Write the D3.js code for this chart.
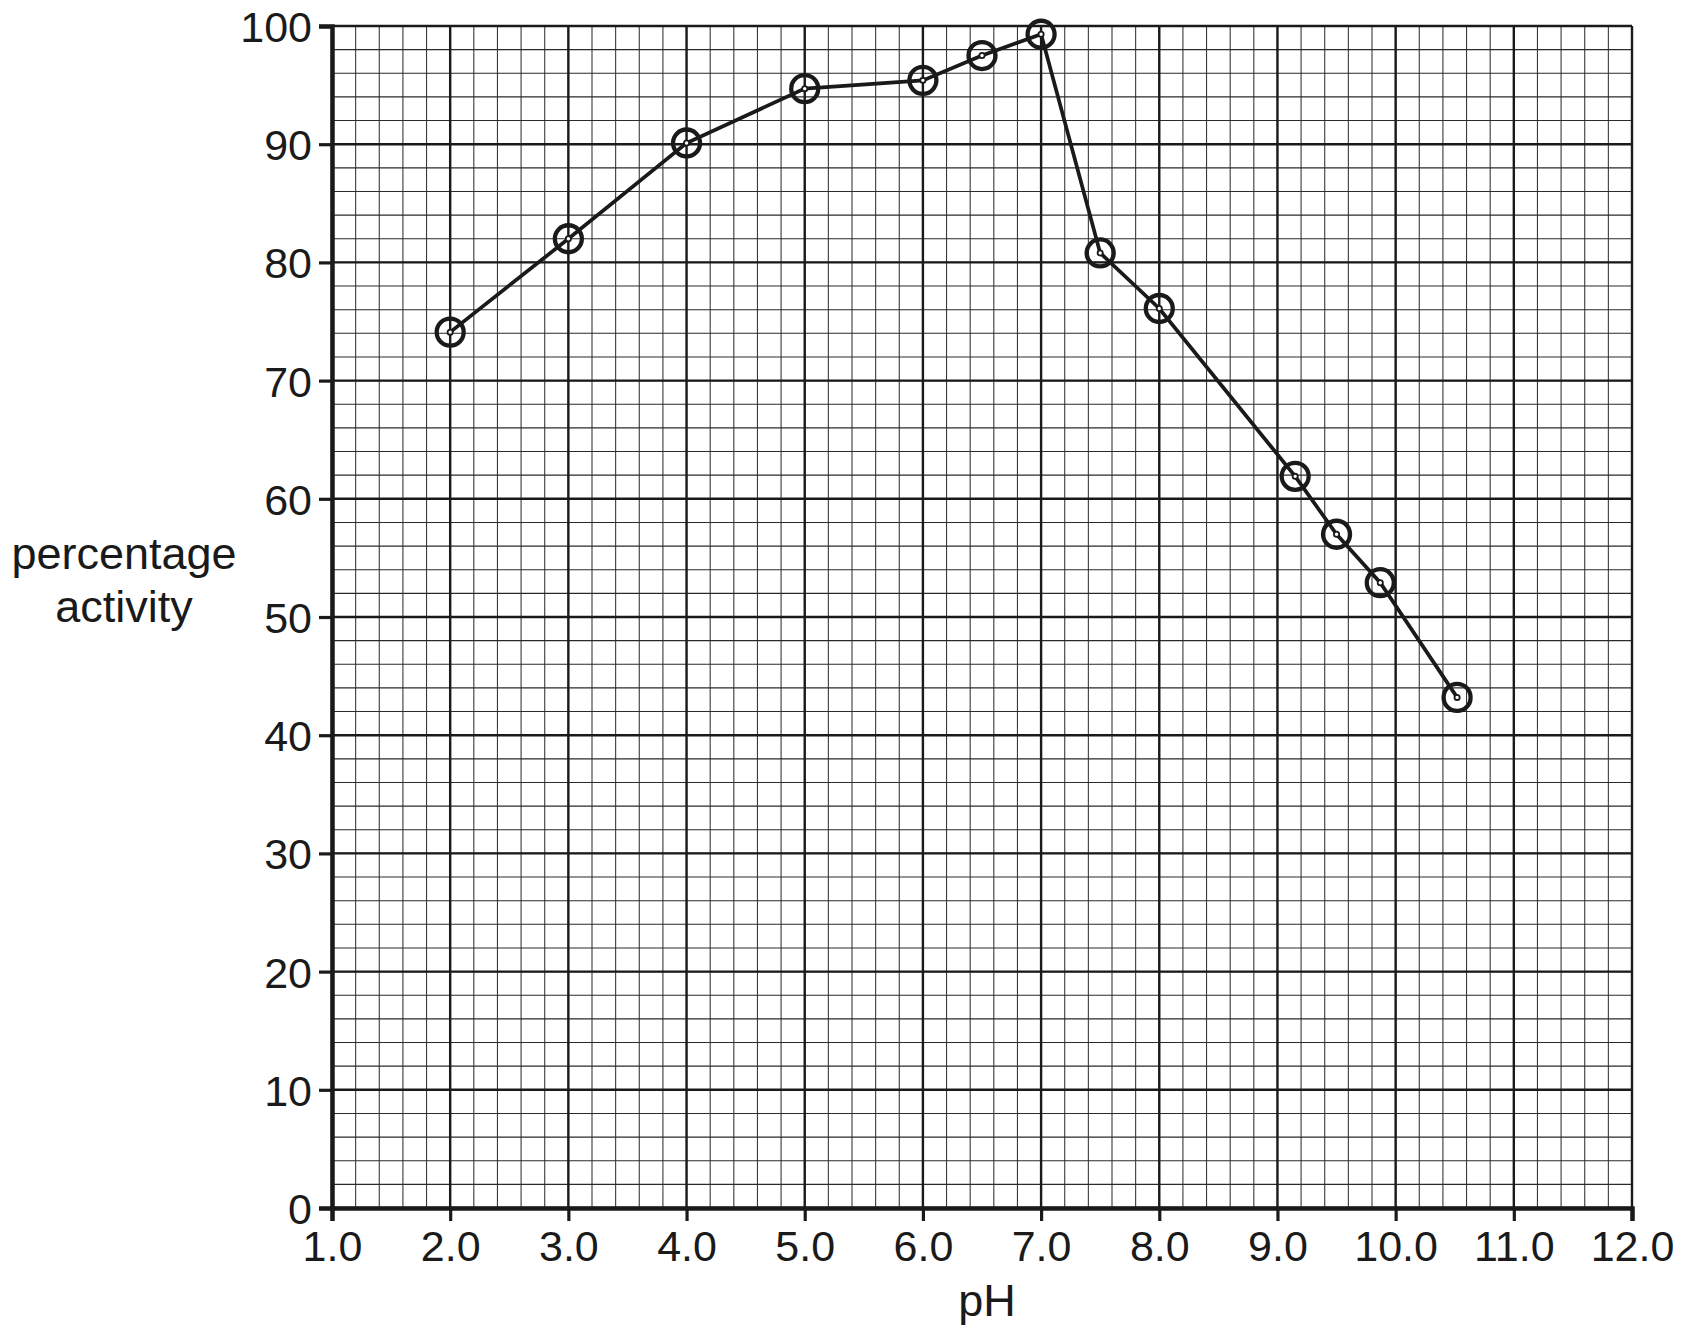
<!DOCTYPE html>
<html>
<head>
<meta charset="utf-8">
<script src="https://cdn.jsdelivr.net/npm/d3@7"></script>
<style>
  body { margin: 0; background: #fff; }
  text { font-family: "Liberation Sans", Arial, Helvetica, sans-serif; fill: #1a1a1a; }
</style>
</head>
<body>
<div id="chart"></div>
<script>
// data
var phValues = [2.0, 3.0, 4.0, 5.0, 6.0, 6.5, 7.0, 7.5, 8.0, 9.15, 9.5, 9.87, 10.52];
var activity = [74.1, 82.0, 90.1, 94.7, 95.4, 97.5, 99.3, 80.8, 76.1, 61.9, 57.0, 52.9, 43.2];

var xTicks = [1, 2, 3, 4, 5, 6, 7, 8, 9, 10, 11, 12];
var yTicks = [0, 10, 20, 30, 40, 50, 60, 70, 80, 90, 100];
var xLabel = "pH";
var yLabel = ["percentage", "activity"];

var points = phValues.map(function(p, i) { return { ph: p, act: activity[i] }; });

// set the dimensions and margins of the graph
var margin = {top: 26, right: 52, bottom: 125, left: 332},
    width = 1684 - margin.left - margin.right,
    height = 1333 - margin.top - margin.bottom;

var svg = d3.select("#chart")
  .append("svg")
    .attr("width", 1684)
    .attr("height", 1333)
  .append("g")
    .attr("transform", "translate(" + margin.left + "," + margin.top + ")");

var x = d3.scaleLinear().domain([1, 12]).range([0, width]);
var y = d3.scaleLinear().domain([0, 100]).range([height, 0]);

// minor grid (graph paper)
var minorX = d3.range(1, 12.0001, 0.2);
var minorY = d3.range(0, 100.0001, 2);

svg.append("g").selectAll("line")
  .data(minorX)
  .enter().append("line")
    .attr("x1", function(d) { return x(d); })
    .attr("x2", function(d) { return x(d); })
    .attr("y1", 0).attr("y2", height)
    .attr("stroke", "#3a3a3a")
    .attr("stroke-width", 1.1);

svg.append("g").selectAll("line")
  .data(minorY)
  .enter().append("line")
    .attr("y1", function(d) { return y(d); })
    .attr("y2", function(d) { return y(d); })
    .attr("x1", 0).attr("x2", width)
    .attr("stroke", "#2a2a2a")
    .attr("stroke-width", 1.1);

// major grid
svg.append("g").selectAll("line")
  .data(xTicks)
  .enter().append("line")
    .attr("x1", function(d) { return x(d); })
    .attr("x2", function(d) { return x(d); })
    .attr("y1", 0).attr("y2", height)
    .attr("stroke", "#1a1a1a")
    .attr("stroke-width", 2.4);

svg.append("g").selectAll("line")
  .data(yTicks)
  .enter().append("line")
    .attr("y1", function(d) { return y(d); })
    .attr("y2", function(d) { return y(d); })
    .attr("x1", 0).attr("x2", width)
    .attr("stroke", "#1a1a1a")
    .attr("stroke-width", 2.4);

// axes
var xAxis = svg.append("g")
  .attr("transform", "translate(0," + height + ")")
  .call(d3.axisBottom(x).tickValues(xTicks).tickFormat(d3.format(".1f")).tickSize(13).tickPadding(6));

var yAxis = svg.append("g")
  .call(d3.axisLeft(y).tickValues(yTicks).tickSize(13).tickPadding(7));

[xAxis, yAxis].forEach(function(a) {
  a.select(".domain").attr("stroke", "#1a1a1a").attr("stroke-width", 4.5);
  a.selectAll(".tick line").attr("stroke", "#1a1a1a").attr("stroke-width", 3.2);
  a.selectAll(".tick text")
    .style("font-family", '"Liberation Sans", Arial, sans-serif')
    .style("font-size", "43px")
    .attr("fill", "#1a1a1a");
});
xAxis.selectAll(".tick text").attr("dy", "0.78em");
yAxis.selectAll(".tick text").attr("dy", "0.36em");

// axis titles
svg.append("text")
  .attr("x", width / 2 + 5)
  .attr("y", height + 108)
  .attr("text-anchor", "middle")
  .style("font-size", "45px")
  .text(xLabel);

svg.append("text")
  .attr("x", 124 - margin.left)
  .attr("y", 569 - margin.top)
  .attr("text-anchor", "middle")
  .style("font-size", "45px")
  .selectAll("tspan")
  .data(yLabel)
  .enter().append("tspan")
    .attr("x", 124 - margin.left)
    .attr("dy", function(d, i) { return i === 0 ? 0 : 53; })
    .text(function(d) { return d; });

// data line
var line = d3.line()
  .x(function(d) { return x(d.ph); })
  .y(function(d) { return y(d.act); });

svg.append("path")
  .datum(points)
  .attr("d", line)
  .attr("fill", "none")
  .attr("stroke", "#1a1a1a")
  .attr("stroke-width", 3.7);

// ringed points
var marks = svg.append("g").selectAll("g")
  .data(points)
  .enter().append("g")
    .attr("transform", function(d) { return "translate(" + x(d.ph) + "," + y(d.act) + ")"; });

marks.append("circle")
  .attr("r", 13.5)
  .attr("fill", "none")
  .attr("stroke", "#1a1a1a")
  .attr("stroke-width", 4.3);

marks.append("circle")
  .attr("r", 2.6)
  .attr("fill", "#fff")
  .attr("stroke", "#1a1a1a")
  .attr("stroke-width", 1.8);
</script>
</body>
</html>
